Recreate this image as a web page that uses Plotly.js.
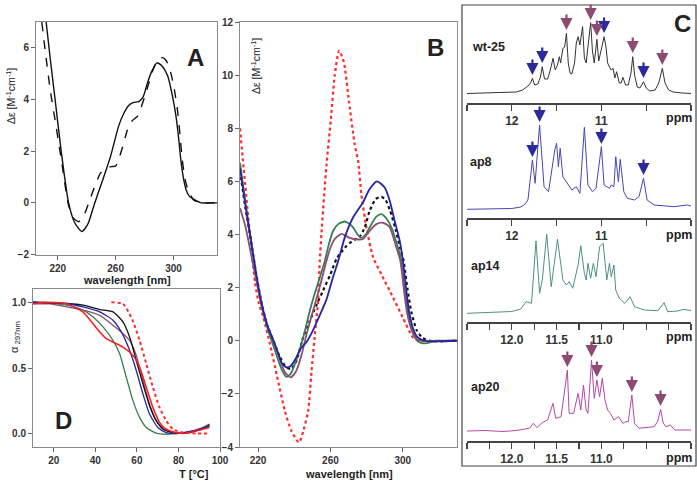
<!DOCTYPE html>
<html><head><meta charset="utf-8">
<script src="https://cdn.plot.ly/plotly-3.0.1.min.js"></script>
<style>html,body{margin:0;padding:0;background:#fff}#plot{width:697px;height:485px}</style>
</head><body><div id="plot"></div>
<script>
// ---------- Panel A : CD spectra (wavelength nm, delta-epsilon) ----------
const aSolidWl = [212,215,218.2,222.4,227.5,232,236.8,241,245,249.5,253,256.5,262,265.5,269,272,276,279,282,285,288.5,292,296,299,301.7,303.5,305,307,308.7,311,314.4,319,325,330];
const aSolidDe = [7.0,5.5,4.0,2.0,0.0,-0.8,-1.11,-0.8,-0.1,0.63,1.2,1.8,2.96,3.45,3.77,3.88,3.92,4.1,4.65,5.1,5.42,5.3,4.9,4.2,3.35,2.5,1.67,0.9,0.5,0.25,0.12,0.0,0.0,0.0];
const aDashWl = [209,212,215,218.2,222.4,227.5,231,234.5,238,241.4,245,249.5,253.7,257,260,262,265,268,271,275,277,280,283,285.5,287.8,290,292.4,295,298,300.5,302.9,304.5,306,308,310,314,320,330];
const aDashDe = [7.0,5.6,4.3,3.2,1.7,-0.1,-0.6,-0.73,-0.5,0.0,0.55,1.15,1.35,1.4,1.42,1.67,2.2,2.8,3.15,3.35,3.6,4.1,4.65,5.1,5.4,5.58,5.62,5.5,5.05,4.4,3.5,2.6,1.67,0.9,0.5,0.1,0.0,0.0];

// ---------- Panel B : CD spectra of variants ----------
const bRedWl = [210,212,215.5,218.3,220.1,222.9,226.6,230.2,234.8,238.5,242.6,245,247.7,249.5,251.4,253.2,254.1,255,257.8,260.2,262.4,264.8,267.4,270.3,273.4,275.3,277.1,279.9,283.6,288.2,294.6,300,305.6,309,330];
const bRedDe = [8.0,6.5,4.0,2.2,1.5,0.88,-0.13,-1.25,-2.64,-3.4,-3.83,-3.4,-2.64,-1.2,0.25,1.5,3.0,4.0,6.6,8.3,10.0,10.92,10.5,9.0,7.4,6.78,5.52,4.27,3.14,2.5,1.63,0.88,0.13,0.0,0.0];
const bBlackWl = [210,213,216,219,222,225,228.5,232,235,238.1,241,244.9,248.6,252,256,260,263.5,268,272,276,279,281.7,285,288.2,290.5,293,296,298.5,300.5,302.5,304.7,307.7,311,315,330];
const bBlackDe = [6.4,5.0,3.8,2.5,1.4,0.6,0.0,-0.6,-0.95,-1.07,-0.8,0.12,0.75,1.3,1.9,2.5,3.1,3.5,3.75,3.9,4.27,4.89,5.33,5.42,5.3,4.9,4.2,3.5,3.0,2.0,1.1,0.4,0.1,0.0,0.0];
const bBlueWl = [210,213,216,219,222,225,228.5,231,233.2,235.7,238,241,243.5,246.8,250.4,254,257.8,261,264.3,268,272.5,278,281.7,285.8,290,292.8,295.5,298.3,300.1,301.8,303.5,305.5,308,312,330];
const bBlueDe = [6.5,5.1,3.8,2.5,1.4,0.6,0.0,-0.45,-0.85,-1.0,-0.95,-0.65,-0.3,-0.05,0.4,0.95,1.55,2.3,3.0,3.9,4.64,5.21,5.71,6.0,5.77,5.27,4.52,3.77,3.0,2.0,1.1,0.5,0.15,0.0,0.0];
const bGreenWl = [210,213,216,219.2,222,225,228,231,233.5,235.7,238,241,244,246,248.6,251,253.3,256.9,259,261.5,264.5,267.9,270.5,272.5,275,277.1,279.5,281.7,285.4,288.2,291,293.7,297.3,299.2,301,303,305,308,311,314,318,330];
const bGreenDe = [6.7,5.2,3.8,2.3,1.3,0.5,-0.1,-0.7,-1.15,-1.36,-1.25,-0.75,-0.1,0.4,1.13,1.7,2.2,3.0,3.6,4.14,4.4,4.49,4.4,4.27,4.0,3.87,4.0,4.27,4.67,4.77,4.6,4.27,3.51,3.0,2.0,1.0,0.4,0.0,-0.1,-0.08,0.0,0.0];
const bPurpleWl = [210,213,216,219.5,222,225,229,232,235,238.1,241,244,247,250.4,254,257.8,260,262.4,266.1,268.5,270.7,274,278,281.7,285.4,288.2,290.5,292.8,296.5,298.7,300.5,302.5,305,308,312,330];
const bPurpleDe = [5.0,4.3,3.3,2.1,1.3,0.6,-0.1,-0.7,-1.2,-1.38,-1.15,-0.55,0.3,1.13,2.0,3.0,3.5,3.83,4.02,3.95,3.87,3.82,3.83,4.14,4.39,4.45,4.4,4.27,3.51,3.0,2.0,1.0,0.4,0.05,0.0,0.0];

// ---------- Panel D : melting curves (T in C, fraction alpha at 297 nm) ----------
const dBlackT = [10,26.2,34.1,42.1,48.5,53.3,56.5,59.7,62.9,66.1,69.3,72.5,77.3,82.1,86.9,93.3,94.9];
const dBlackA = [1.0,0.99,0.977,0.944,0.926,0.85,0.735,0.557,0.379,0.214,0.1,0.036,0.01,0.003,0.015,0.048,0.069];
const dBlueT = [10,26.2,34.1,42.1,48.5,52.5,56.5,59.7,62.9,66.1,70.1,74.1,80.5,86.9,94.9];
const dBlueA = [1.0,0.99,0.964,0.926,0.863,0.774,0.634,0.481,0.303,0.15,0.048,0.01,0.003,0.023,0.061];
const dGreenT = [10,26.2,34.1,38.9,43.7,48.5,51.7,54.9,58.1,61.3,64.5,69.3,74.1,82.1,90.1,94.9];
const dGreenA = [1.0,0.977,0.939,0.888,0.812,0.71,0.608,0.43,0.252,0.125,0.048,0.005,-0.003,0.01,0.036,0.074];
const dPurpleT = [10,18.1,26.2,34.1,42.1,48.5,53.3,56.5,59.7,62.9,66.1,69.3,74.1,80.5,86.9,94.9];
const dPurpleA = [0.987,0.987,0.964,0.939,0.9,0.825,0.761,0.71,0.596,0.405,0.227,0.1,0.023,0.003,0.018,0.061];
const dRedT = [10,15,26.2,34.1,38.9,42.1,45.3,48.5,53.3,58.1,61.3,64.5,67.7,70.9,74.1,78.9,82.1,88.5,94.9];
const dRedA = [0.987,1.0,0.987,0.924,0.836,0.773,0.723,0.697,0.659,0.596,0.507,0.354,0.201,0.087,0.036,0.01,0.003,0.023,0.048];
const dRedDotT = [47.7,53.3,57.3,61.3,64.5,67.7,70.9,74.1,77.3,82.1,88.5,94.9];
const dRedDotA = [1.0,0.987,0.885,0.71,0.532,0.354,0.2,0.1,0.036,0.01,0.003,0.003];

// ---------- Panel C : imino 1H NMR spectra (ppm, intensity) ----------
const wtPpm = [12.5,12.35,12.2,12.05,11.95,11.88,11.82,11.79,11.77,11.745,11.71,11.68,11.66,11.635,11.6,11.57,11.54,11.515,11.49,11.47,11.455,11.43,11.41,11.39,11.37,11.35,11.33,11.3,11.28,11.26,11.24,11.21,11.19,11.17,11.145,11.12,11.1,11.08,11.05,11.03,11.01,10.97,10.95,10.93,10.91,10.89,10.87,10.85,10.83,10.8,10.78,10.76,10.73,10.7,10.67,10.65,10.63,10.6,10.57,10.53,10.5,10.46,10.4,10.36,10.32,10.29,10.25,10.2,10.1,10.0];
const wtInt = [9.5,10,9.8,10.3,11,13,17,20,24.7,18,19,26,36.3,24,24,33,44.7,33,38,46.3,40,54.7,56,69.7,40,30,29,40,60,66.3,58,76.3,45,40,60,80.3,52,40,63.7,42,50,66.3,57,40,36,33,34.7,25,31.3,20,20,25.7,18,18,30,46.3,28,16,15,21.3,15,12,13,20,34.7,20,13,11,10,9.5];
const ap8Ppm = [12.5,12.2,12.0,11.9,11.85,11.82,11.77,11.74,11.69,11.64,11.59,11.52,11.5,11.48,11.46,11.43,11.39,11.36,11.33,11.28,11.24,11.19,11.15,11.1,11.06,11.0,10.97,10.91,10.89,10.86,10.84,10.81,10.79,10.75,10.71,10.63,10.58,10.53,10.49,10.41,10.19,10.04,10.0];
const ap8Int = [8.7,9,9.5,11,14,18,58,34.7,93,31.3,26.3,68,74.7,51.3,69.7,41.3,36.3,31.3,28,31.3,24.7,90.7,33,26.3,29.7,71.3,33,29.7,33,31.3,61.3,36.3,58.7,26.3,19.7,18,21.3,39.7,18,13,11.3,13,12];
const ap14Ppm = [12.5,12.2,12.0,11.9,11.84,11.78,11.73,11.69,11.66,11.61,11.56,11.49,11.47,11.43,11.39,11.36,11.32,11.28,11.26,11.23,11.19,11.17,11.15,11.12,11.09,11.06,11.02,10.98,10.96,10.94,10.91,10.89,10.86,10.84,10.8,10.74,10.68,10.63,10.52,10.37,10.3,10.26,10.15,10.08,10.0];
const ap14Int = [8.7,9.5,10.5,13,20.3,18.7,81,28.7,42,87.7,35.3,82.7,68.7,42,37,40.3,33.7,48.7,57,76.3,48.7,42,58.7,43.7,58.7,45.3,75.3,78.7,62,42,58.7,45.3,57,32,23.7,18.7,25.3,15.3,12,11.3,19.3,10.3,11,12.7,11.3];
const ap20Ppm = [12.5,12.3,12.1,11.95,11.85,11.8,11.76,11.72,11.66,11.6,11.54,11.51,11.45,11.38,11.36,11.31,11.26,11.23,11.2,11.17,11.15,11.11,11.08,11.05,11.02,10.99,10.96,10.93,10.9,10.86,10.81,10.76,10.73,10.7,10.66,10.63,10.58,10.41,10.37,10.34,10.31,10.28,10.23,10.18,10.0];
const ap20Int = [10,10.5,9.5,10.5,12,13,17.7,13.5,18.3,21,37.7,22.7,24.3,71,27.7,27.7,47.7,31,56,31,27.7,81,42.7,61,44.3,62.7,41,31,27.7,21,24.3,17.7,19.3,19.3,46,17.7,12.7,14.3,20,31.7,18,14.3,16,11,11];

// arrows marking imino peaks (ppm, tip intensity)
const wtBlueArrPpm = [11.77,11.66,10.97,10.53];
const wtBlueArrTip = [28,40,70,25];
const wtPurpArrPpm = [11.39,11.12,11.05,10.65,10.32];
const wtPurpArrTip = [73,83,67,50,38];
const ap8ArrPpm = [11.77,11.69,11.0,10.53];
const ap8ArrTip = [61,96,74,43];
const ap20ArrPpm = [11.38,11.11,11.05,10.66,10.34];
const ap20ArrTip = [74,84,64,49,35];

const W = 697, H = 485;
const FONT = 'Liberation Sans, Arial, sans-serif';
const px = x => x / W;
const py = y => 1 - y / H;

const traces = [];
function line(x, y, xa, ya, color, dash, width, shape) {
  traces.push({x, y, xaxis: xa, yaxis: ya, type: 'scatter', mode: 'lines',
    line: {color, dash: dash || 'solid', width: width || 1.5, shape: shape || 'spline', smoothing: 0.6},
    hoverinfo: 'skip'});
}
// A
line(aDashWl, aDashDe, 'x', 'y', '#111', 'dash', 1.4);
line(aSolidWl, aSolidDe, 'x', 'y', '#111', 'solid', 1.4);
// B
line(bRedWl, bRedDe, 'x2', 'y2', '#ff2a2a', 'dot', 2.2);
line(bBlackWl, bBlackDe, 'x2', 'y2', '#111', 'dot', 2.2);
line(bGreenWl, bGreenDe, 'x2', 'y2', '#3a7d55', 'solid', 1.8);
line(bPurpleWl, bPurpleDe, 'x2', 'y2', '#8c4f74', 'solid', 1.8);
line(bBlueWl, bBlueDe, 'x2', 'y2', '#2525a0', 'solid', 1.8);
// D
line(dGreenT, dGreenA, 'x3', 'y3', '#3a7d55', 'solid', 1.3);
line(dPurpleT, dPurpleA, 'x3', 'y3', '#8c4f74', 'solid', 1.3);
line(dBlackT, dBlackA, 'x3', 'y3', '#111', 'solid', 1.3);
line(dBlueT, dBlueA, 'x3', 'y3', '#2525a0', 'solid', 1.3);
line(dRedT, dRedA, 'x3', 'y3', '#ff1a1a', 'solid', 1.5);
line(dRedDotT, dRedDotA, 'x3', 'y3', '#ff2a2a', 'dot', 2);
// C
line(wtPpm, wtInt, 'x4', 'y4', '#333', 'solid', 1, 'linear');
line(ap8Ppm, ap8Int, 'x5', 'y5', '#4646b4', 'solid', 1, 'linear');
line(ap14Ppm, ap14Int, 'x6', 'y6', '#4f8f85', 'solid', 1, 'linear');
line(ap20Ppm, ap20Int, 'x7', 'y7', '#b548a8', 'solid', 1, 'linear');

const tickFont = {family: FONT, size: 10, color: '#333', weight: 'bold'};
const frameAxis = (dom, range, extra) => Object.assign({
  domain: dom, range, showline: true, mirror: true, linecolor: '#8a8a8a', linewidth: 1,
  ticks: 'outside', ticklen: 4, tickcolor: '#666', showgrid: false, zeroline: false,
  tickfont: tickFont, fixedrange: true
}, extra || {});

const cAxis = (anchor, labels5) => ({
  domain: [px(467), px(691)], range: [12.5, 10], anchor,
  showline: true, linecolor: '#444', linewidth: 1.5, ticks: 'outside', ticklen: 6, tickwidth: 1.2,
  tickcolor: '#444', showgrid: false, zeroline: false,
  tickvals: labels5 ? [12.5,12,11.5,11,10.5,10] : [12.5,12.25,12,11.75,11.5,11.25,11,10.75,10.5,10.25,10],
  ticktext: labels5 ? ['','12','','11','',''] : ['','','12.0','','11.5','','11.0','','','',''],
  tickfont: {family: FONT, size: 12, color: '#333', weight: 'bold'}, fixedrange: true
});
const cY = (top, bottom) => ({domain: [py(bottom), py(top)], range: [0, 100], visible: false, fixedrange: true});

const layout = {
  width: W, height: H, margin: {l: 0, r: 0, t: 0, b: 0},
  paper_bgcolor: '#fff', plot_bgcolor: 'rgba(0,0,0,0)', showlegend: false,
  font: {family: FONT},
  xaxis: frameAxis([px(36), px(217)], [205, 330], {tickvals: [220,260,300], anchor: 'y'}),
  yaxis: frameAxis([py(254.5), py(22)], [-2, 7], {tickvals: [-2,0,2,4,6], anchor: 'x'}),
  xaxis2: frameAxis([px(240), px(457)], [210, 330], {tickvals: [220,260,300], anchor: 'y2'}),
  yaxis2: frameAxis([py(447), py(22)], [-4, 12], {tickvals: [-4,-2,0,2,4,6,8,10,12], anchor: 'x2'}),
  xaxis3: frameAxis([px(33), px(220)], [10, 100], {tickvals: [20,40,60,80,100], anchor: 'y3'}),
  yaxis3: frameAxis([py(447), py(289)], [-0.1, 1.1], {tickvals: [0,0.5,1], ticktext: ['0.0','0.5','1.0'], anchor: 'x3'}),
  xaxis4: cAxis('y4', true), yaxis4: cY(3, 103),
  xaxis5: cAxis('y5', true), yaxis5: cY(118, 218),
  xaxis6: cAxis('y6', false), yaxis6: cY(222, 322),
  xaxis7: cAxis('y7', false), yaxis7: cY(341, 441),
  shapes: [
    {type: 'rect', xref: 'paper', yref: 'paper', x0: px(462), x1: px(696), y0: py(466), y1: py(5),
     line: {color: '#444', width: 1.2}}
  ],
  annotations: []
};

const ann = layout.annotations;
function txt(x, y, text, size, opts) {
  ann.push(Object.assign({xref: 'paper', yref: 'paper', x: px(x), y: py(y), text, showarrow: false,
    font: {family: FONT, size, color: '#222', weight: 'bold'}, xanchor: 'center', yanchor: 'middle'}, opts || {}));
}
// panel letters
txt(195, 57, 'A', 24);
txt(435, 48, 'B', 24);
txt(682, 23, 'C', 24);
txt(63, 420, 'D', 24);
// axis titles
txt(127, 280, 'wavelength [nm]', 11);
txt(349, 474, 'wavelength [nm]', 11);
txt(194, 474, 'T [°C]', 11);
txt(11, 96, 'Δε [M<sup>-1</sup>cm<sup>-1</sup>]', 10.5, {textangle: -90, font: {family: FONT, size: 10.5, color: '#222'}});
txt(256, 66, 'Δε [M<sup>-1</sup>cm<sup>-1</sup>]', 10.5, {textangle: -90, font: {family: FONT, size: 10.5, color: '#222'}});
txt(15, 337, 'α<sub> 297nm</sub>', 11, {textangle: -90, font: {family: FONT, size: 11, color: '#222'}});
// C labels
txt(488, 47, 'wt-25', 12.5);
txt(481, 162, 'ap8', 12.5);
txt(485, 266, 'ap14', 12.5);
txt(485, 387, 'ap20', 12.5);
[118, 235, 337, 458].forEach(y => txt(679, y, 'ppm', 12.5));

function arrows(ppm, tip, xa, ya, color) {
  ppm.forEach((p, i) => ann.push({xref: xa, yref: ya, x: p, y: tip[i], text: '', showarrow: true,
    ax: 0, ay: -17, arrowhead: 2, arrowsize: 1.1, arrowwidth: 2.2, arrowcolor: color}));
}
arrows(wtBlueArrPpm, wtBlueArrTip, 'x4', 'y4', '#2a2a9c');
arrows(wtPurpArrPpm, wtPurpArrTip, 'x4', 'y4', '#8d4b72');
arrows(ap8ArrPpm, ap8ArrTip, 'x5', 'y5', '#2a2a9c');
arrows(ap20ArrPpm, ap20ArrTip, 'x7', 'y7', '#8d4b72');

Plotly.newPlot('plot', traces, layout, {staticPlot: true, displayModeBar: false});
</script></body></html>
